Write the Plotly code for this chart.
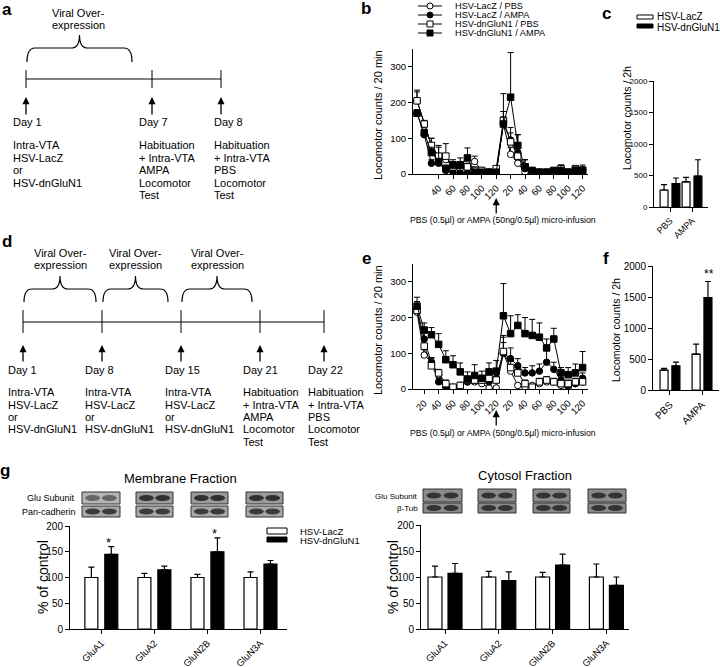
import plotly.graph_objects as go

W, H = 720, 667
FONT = 'Liberation Sans, Arial, Helvetica, sans-serif'


def px(x):
    return x / W


def py(y):
    return 1 - y / H


# ---------------- data ----------------
# 20-min locomotor bins: 12 bins before and 12 bins after the micro-infusion
time_bins = list(range(1, 25))
b_tickvals = [4, 6, 8, 10, 12, 14, 16, 18, 20, 22, 24]
b_ticktext = ['40', '60', '80', '100', '120', '20', '40', '60', '80', '100', '120']
e_tickvals = [2, 4, 6, 8, 10, 12, 14, 16, 18, 20, 22, 24]
e_ticktext = ['20', '40', '60', '80', '100', '120', '20', '40', '60', '80', '100', '120']
infusion_bin = 12

group_names = ['HSV-LacZ / PBS', 'HSV-LacZ / AMPA', 'HSV-dnGluN1 / PBS', 'HSV-dnGluN1 / AMPA']

# panel b (7 days of over-expression)
b_lacz_pbs = [205, 140, 80, 45, 40, 20, 15, 20, 35, 10, 5, 5, 140, 55, 30, 5, 3, 3, 3, 5, 5, 5, 10, 10]
b_lacz_ampa = [170, 110, 30, 30, 10, 5, 3, 3, 3, 3, 3, 3, 140, 95, 60, 15, 10, 5, 3, 3, 10, 5, 5, 10]
b_dn_pbs = [205, 140, 80, 50, 50, 20, 25, 20, 10, 10, 5, 15, 150, 90, 50, 20, 5, 5, 5, 5, 15, 5, 15, 10]
b_dn_ampa = [170, 115, 60, 35, 15, 25, 25, 45, 5, 5, 5, 5, 140, 215, 80, 20, 10, 5, 5, 10, 10, 5, 10, 10]
b_lacz_pbs_err = [30, 10, 20, 10, 10, 10, 10, 10, 15, 5, 5, 5, 35, 20, 20, 5, 3, 3, 3, 5, 5, 5, 5, 5]
b_lacz_ampa_err = [10, 10, 10, 10, 5, 5, 3, 3, 3, 3, 3, 3, 20, 20, 15, 5, 5, 5, 3, 3, 5, 5, 5, 5]
b_dn_pbs_err = [25, 10, 20, 30, 35, 15, 10, 10, 10, 5, 5, 5, 25, 40, 60, 20, 5, 5, 5, 5, 10, 5, 5, 10]
b_dn_ampa_err = [10, 10, 15, 40, 10, 15, 20, 28, 5, 5, 5, 5, 85, 125, 30, 20, 5, 5, 5, 5, 15, 5, 10, 15]

# panel e (21 days of over-expression)
e_lacz_pbs = [215, 95, 75, 40, 10, 5, 10, 20, 20, 15, 3, 3, 100, 50, 10, 5, 10, 15, 20, 20, 10, 5, 15, 20]
e_lacz_ampa = [225, 140, 73, 20, 5, 3, 10, 20, 25, 25, 20, 30, 100, 85, 65, 45, 45, 50, 75, 55, 25, 10, 15, 30]
e_dn_pbs = [220, 120, 65, 45, 15, 5, 10, 25, 25, 25, 30, 25, 105, 60, 45, 15, 5, 20, 25, 20, 15, 15, 20, 20]
e_dn_ampa = [232, 165, 152, 125, 82, 68, 48, 28, 38, 30, 48, 50, 205, 155, 178, 155, 150, 145, 115, 140, 45, 40, 45, 60]
e_lacz_pbs_err = [20, 15, 10, 10, 5, 5, 5, 5, 5, 5, 3, 3, 30, 15, 5, 3, 5, 5, 5, 5, 5, 5, 5, 5]
e_lacz_ampa_err = [20, 20, 15, 10, 5, 3, 5, 10, 10, 10, 10, 15, 50, 30, 20, 15, 20, 20, 35, 20, 15, 5, 10, 15]
e_dn_pbs_err = [15, 20, 15, 10, 10, 5, 5, 10, 10, 10, 10, 10, 40, 20, 15, 10, 5, 10, 10, 10, 10, 10, 10, 10]
e_dn_ampa_err = [25, 20, 20, 30, 25, 25, 25, 20, 30, 20, 25, 30, 90, 50, 30, 45, 45, 40, 25, 30, 15, 20, 25, 45]

# total counts over 2 h (c, f)
treatments = ['PBS', 'AMPA']
c_lacz = [270, 400]
c_lacz_err = [85, 70]
c_dn = [370, 490]
c_dn_err = [90, 260]
f_lacz = [320, 580]
f_lacz_err = [30, 160]
f_dn = [390, 1490]
f_dn_err = [60, 260]

# surface expression, % of control (g)
subunits = ['GluA1', 'GluA2', 'GluN2B', 'GluN3A']
mem_lacz = [100, 100, 100, 100]
mem_lacz_err = [20, 8, 6, 11]
mem_dn = [145, 115, 150, 126]
mem_dn_err = [15, 7, 27, 7]
cyt_lacz = [100, 100, 100, 100]
cyt_lacz_err = [21, 11, 9, 25]
cyt_dn = [107, 93, 123, 84]
cyt_dn_err = [19, 17, 21, 16]

fig = go.Figure()

# ---------------- time course traces ----------------
line_styles = [('circle', 'white'), ('circle', 'black'), ('square', 'white'), ('square', 'black')]


def add_course(vals_list, errs_list, xa, ya):
    for name, vals, errs, (sym, fill) in zip(group_names, vals_list, errs_list, line_styles):
        fig.add_trace(go.Scatter(
            x=time_bins, y=vals, name=name, mode='lines+markers', showlegend=False,
            line=dict(color='black', width=1),
            marker=dict(symbol=sym, size=6.5, color=fill, line=dict(color='black', width=1)),
            error_y=dict(type='data', array=errs, arrayminus=[0] * len(errs), symmetric=False,
                         color='black', thickness=1, width=3),
            xaxis=xa, yaxis=ya))


add_course([b_lacz_pbs, b_lacz_ampa, b_dn_pbs, b_dn_ampa],
           [b_lacz_pbs_err, b_lacz_ampa_err, b_dn_pbs_err, b_dn_ampa_err], 'x', 'y')
add_course([e_lacz_pbs, e_lacz_ampa, e_dn_pbs, e_dn_ampa],
           [e_lacz_pbs_err, e_lacz_ampa_err, e_dn_pbs_err, e_dn_ampa_err], 'x3', 'y3')


# ---------------- bar traces ----------------
def add_bars(cats, vals, errs, fill, offset, width, xa, ya, name):
    fig.add_trace(go.Bar(
        x=cats, y=vals, name=name, offset=offset, width=width, showlegend=False,
        marker=dict(color=fill, line=dict(color='black', width=1.2)),
        error_y=dict(type='data', array=errs, arrayminus=[0] * len(errs), symmetric=False,
                     color='black', thickness=1.2, width=3),
        xaxis=xa, yaxis=ya))


add_bars(treatments, c_lacz, c_lacz_err, 'white', -0.45, 0.36, 'x2', 'y2', 'HSV-LacZ')
add_bars(treatments, c_dn, c_dn_err, 'black', 0.09, 0.36, 'x2', 'y2', 'HSV-dnGluN1')
add_bars(treatments, f_lacz, f_lacz_err, 'white', -0.31, 0.25, 'x4', 'y4', 'HSV-LacZ')
add_bars(treatments, f_dn, f_dn_err, 'black', 0.06, 0.25, 'x4', 'y4', 'HSV-dnGluN1')
add_bars(subunits, mem_lacz, mem_lacz_err, 'white', -0.31, 0.245, 'x5', 'y5', 'HSV-LacZ')
add_bars(subunits, mem_dn, mem_dn_err, 'black', 0.066, 0.245, 'x5', 'y5', 'HSV-dnGluN1')
add_bars(subunits, cyt_lacz, cyt_lacz_err, 'white', -0.316, 0.26, 'x6', 'y6', 'HSV-LacZ')
add_bars(subunits, cyt_dn, cyt_dn_err, 'black', 0.056, 0.26, 'x6', 'y6', 'HSV-dnGluN1')

# ---------------- axes ----------------
base = dict(showline=True, linecolor='black', linewidth=1, ticks='outside', ticklen=4,
            tickwidth=1, tickcolor='black', showgrid=False, zeroline=False, automargin=False,
            tickfont=dict(size=9.5, color='black', family=FONT))


def axis(**kw):
    d = dict(base)
    d.update(kw)
    return d


small = dict(size=8, color='black', family=FONT)
mid = dict(size=10, color='black', family=FONT)
glu = dict(size=9.5, color='black', family=FONT)

fig.update_layout(
    xaxis=axis(domain=[px(413), px(588)], range=[0.44, 24.75], tickvals=b_tickvals,
               ticktext=b_ticktext, tickangle=-45, anchor='y'),
    yaxis=axis(domain=[py(174), py(49)], range=[0, 350], tickvals=[0, 100, 200, 300], anchor='x'),
    xaxis2=axis(domain=[px(654), px(708)], type='category', range=[-0.727, 1.727],
                tickangle=-45, tickfont=dict(size=9, color='black', family=FONT), anchor='y2'),
    yaxis2=axis(domain=[py(207), py(81)], range=[0, 2000], tickvals=[0, 500, 1000, 1500, 2000],
                tickfont=small, anchor='x2'),
    xaxis3=axis(domain=[px(413), px(588)], range=[0.44, 24.75], tickvals=e_tickvals,
                ticktext=e_ticktext, tickangle=-45, anchor='y3'),
    yaxis3=axis(domain=[py(389), py(264)], range=[0, 350], tickvals=[0, 100, 200, 300], anchor='x3'),
    xaxis4=axis(domain=[px(653), px(719)], type='category', range=[-0.53, 1.53],
                tickangle=-45, tickfont=mid, anchor='y4'),
    yaxis4=axis(domain=[py(390), py(266)], range=[0, 2000], tickvals=[0, 500, 1000, 1500, 2000],
                tickfont=mid, anchor='x4'),
    xaxis5=axis(domain=[px(70), px(287)], type='category', range=[-0.59, 3.5], tickangle=-45,
                tickfont=glu, anchor='y5'),
    yaxis5=axis(domain=[py(629), py(526)], range=[0, 200], tickvals=[0, 50, 100, 150, 200],
                tickfont=mid, anchor='x5'),
    xaxis6=axis(domain=[px(421), px(629)], type='category', range=[-0.446, 3.42], tickangle=-45,
                tickfont=glu, anchor='y6'),
    yaxis6=axis(domain=[py(629), py(525)], range=[0, 200], tickvals=[0, 50, 100, 150, 200],
                tickfont=mid, anchor='x6'),
)

# ---------------- annotations & shapes ----------------
ann = []
shapes = []


def text(x, y, s, size=11, anchor='left', angle=0, bold=False):
    ann.append(dict(x=px(x), y=py(y), xref='paper', yref='paper', text='<b>%s</b>' % s if bold else s,
                    showarrow=False, xanchor=anchor, yanchor='middle', textangle=angle,
                    font=dict(size=size, color='black', family=FONT)))


def up_arrow(x, y_head, y_tail):
    ann.append(dict(x=px(x), y=py(y_head), xref='paper', yref='paper', ax=0, ay=y_tail - y_head,
                    text='', showarrow=True, arrowhead=2, arrowsize=1.1, arrowwidth=1.3,
                    arrowcolor='black'))


def line(x0, y0, x1, y1, w=1):
    shapes.append(dict(type='line', xref='paper', yref='paper', x0=px(x0), y0=py(y0),
                       x1=px(x1), y1=py(y1), line=dict(color='black', width=w)))


def rect(x0, y0, x1, y1, fill, lc='black', w=1):
    shapes.append(dict(type='rect', xref='paper', yref='paper', x0=px(x0), y0=py(y0),
                       x1=px(x1), y1=py(y1), fillcolor=fill, line=dict(color=lc, width=w)))


def ellipse(x0, y0, x1, y1, fill, lc='black', w=1):
    shapes.append(dict(type='circle', xref='paper', yref='paper', x0=px(x0), y0=py(y0),
                       x1=px(x1), y1=py(y1), fillcolor=fill, line=dict(color=lc, width=w)))


def brace(x0, x1, y_end, y_mid, y_peak, r=8):
    xc = (x0 + x1) / 2
    pts = lambda x, y: '%f,%f' % (px(x), py(y))
    path = ('M ' + pts(x0, y_end) + ' Q ' + pts(x0, y_mid) + ' ' + pts(x0 + r, y_mid) +
            ' L ' + pts(xc - r, y_mid) + ' Q ' + pts(xc, y_mid) + ' ' + pts(xc, y_peak) +
            ' Q ' + pts(xc, y_mid) + ' ' + pts(xc + r, y_mid) +
            ' L ' + pts(x1 - r, y_mid) + ' Q ' + pts(x1, y_mid) + ' ' + pts(x1, y_end))
    shapes.append(dict(type='path', xref='paper', yref='paper', path=path,
                       line=dict(color='black', width=1.2)))


# panel letters
for letter, (x, y) in {'a': (7, 10), 'b': (366, 9), 'c': (606, 14), 'd': (7, 241),
                       'e': (366, 258), 'f': (606, 258), 'g': (5, 470)}.items():
    text(x, y, letter, size=17, anchor='center', bold=True)

# ----- panel a timeline
line(26, 79, 221, 79)
for x in [26, 152, 221]:
    line(x, 70, x, 88)
    up_arrow(x, 97, 116)
brace(27, 132, 62, 48, 35)
text(78, 13, 'Viral Over-', anchor='center')
text(78, 25, 'expression', anchor='center')
a_cols = [(11, ['Day 1', None, 'Intra-VTA', 'HSV-LacZ', 'or', 'HSV-dnGluN1']),
          (137, ['Day 7', None, 'Habituation', '+ Intra-VTA', 'AMPA', 'Locomotor', 'Test']),
          (212, ['Day 8', None, 'Habituation', '+ Intra-VTA', 'PBS', 'Locomotor', 'Test'])]
a_rows = [122, None, 145, 158, 170, 183, 195]
for x, lines_ in a_cols:
    for s, y in zip(lines_, a_rows):
        if s:
            text(x, y, s)

# ----- panel d timeline
d_ticks = [23, 102, 181, 260, 324]
line(23, 322, 324, 322)
for x in d_ticks:
    line(x, 310, x, 333)
    up_arrow(x, 345, 363)
for x0, x1 in [(24, 96), (103, 168), (182, 252)]:
    brace(x0, x1, 302, 289, 276)
    text((x0 + x1) / 2, 253, 'Viral Over-', anchor='center')
    text((x0 + x1) / 2, 265, 'expression', anchor='center')
inj = ['Intra-VTA', 'HSV-LacZ', 'or', 'HSV-dnGluN1']
d_cols = [(6, 'Day 1', inj), (83, 'Day 8', inj), (163, 'Day 15', inj),
          (241, 'Day 21', ['Habituation', '+ Intra-VTA', 'AMPA', 'Locomotor', 'Test']),
          (306, 'Day 22', ['Habituation', '+ Intra-VTA', 'PBS', 'Locomotor', 'Test'])]
d_rows = [392, 405, 417, 429, 442]
for x, day, lines_ in d_cols:
    text(x, 370, day)
    for s, y in zip(lines_, d_rows):
        text(x, y, s)

# ----- panel b / e titles, arrows, legend
text(378, 115, 'Locomotor counts / 20 min', angle=-90, anchor='center')
text(378, 330, 'Locomotor counts / 20 min', angle=-90, anchor='center')
for xa, yh in [('x', 198), ('x3', 410)]:
    ann.append(dict(x=infusion_bin, y=py(yh), xref=xa, yref='paper', ax=0, ay=17, text='',
                    showarrow=True, arrowhead=2, arrowsize=1.1, arrowwidth=1.3, arrowcolor='black'))
text(503, 220, 'PBS (0.5µl) or AMPA (50ng/0.5µl) micro-infusion', size=8.7, anchor='center')
text(503, 433, 'PBS (0.5µl) or AMPA (50ng/0.5µl) micro-infusion', size=8.7, anchor='center')

for i, (name, (sym, fill)) in enumerate(zip(group_names, line_styles)):
    y = 6 + 9 * i
    line(418, y, 442, y)
    if sym == 'circle':
        ellipse(427, y - 3, 433, y + 3, fill)
    else:
        rect(427, y - 3, 433, y + 3, fill)
    text(453, y, name, size=9.2)

# ----- panel c / f
text(627, 118, 'Locomotor counts / 2h', angle=-90, anchor='center', size=10.5)
text(616, 330, 'Locomotor counts / 2h', angle=-90, anchor='center', size=10.5)
rect(637, 15, 653, 19, 'white')
rect(637, 24, 653, 28, 'black')
text(655, 17, 'HSV-LacZ', size=10)
text(655, 27, 'HSV-dnGluN1', size=10)
ann.append(dict(x='AMPA', y=f_dn[1] + f_dn_err[1] + 120, xref='x4', yref='y4', text='**', showarrow=False,
                xshift=6.5, font=dict(size=12, color='black', family=FONT)))

# ----- panel g
text(180, 478, 'Membrane Fraction', size=13, anchor='center')
text(525, 475, 'Cytosol Fraction', size=13, anchor='center')
text(43, 577, '% of control', size=14, angle=-90, anchor='center')
text(393, 577, '% of control', size=14, angle=-90, anchor='center')
rect(267, 528, 287, 534, 'white')
rect(267, 537, 287, 542, 'black')
text(298, 531, 'HSV-LacZ', size=9.5)
text(298, 540, 'HSV-dnGluN1', size=9.5)
for i in [0, 2]:
    ann.append(dict(x=subunits[i], y=mem_dn[i] + mem_dn_err[i] + 8, xref='x5', yref='y5', text='*',
                    showarrow=False, xshift=7, font=dict(size=13, color='black', family=FONT)))

# western blot strips
text(77, 498, 'Glu Subunit', size=9, anchor='right')
text(78, 512, 'Pan-cadherin', size=9, anchor='right')
text(420, 496, 'Glu Subunit', size=8, anchor='right')
text(420, 508, 'β-Tub', size=8, anchor='right')


def blot(x0, x1, y0, y1, bg, band):
    rect(x0, y0, x1, y1, bg, lc='#333333', w=1)
    wdt = x1 - x0
    for c in [0.28, 0.72]:
        ellipse(x0 + wdt * c - 7, (y0 + y1) / 2 - 2.5, x0 + wdt * c + 7, (y0 + y1) / 2 + 2.5,
                band, lc=band, w=1)


for i, (x0, x1) in enumerate([(82, 120), (136, 173), (191, 228), (246, 283)]):
    blot(x0, x1, 492, 504, '#b4b4b4' if i == 0 else '#9a9a9a', '#666666' if i == 0 else '#303030')
    blot(x0, x1, 506, 517, '#a8a8a8', '#3a3a3a')
for x0, x1 in [(423, 462), (478, 516), (533, 570), (588, 626)]:
    blot(x0, x1, 489, 502, '#8a8a8a', '#333333')
    blot(x0, x1, 503, 513, '#8a8a8a', '#333333')

fig.update_layout(
    width=W, height=H, margin=dict(l=0, r=0, t=0, b=0, autoexpand=False),
    paper_bgcolor='white', plot_bgcolor='white',
    font=dict(family=FONT, color='black'),
    showlegend=False,
    annotations=ann, shapes=shapes,
)

# drop the page's default body margin so the figure sits at the window corner
fig.write_html('out.html', config={'displayModeBar': False},
               post_script="document.body.style.margin='0px';")
